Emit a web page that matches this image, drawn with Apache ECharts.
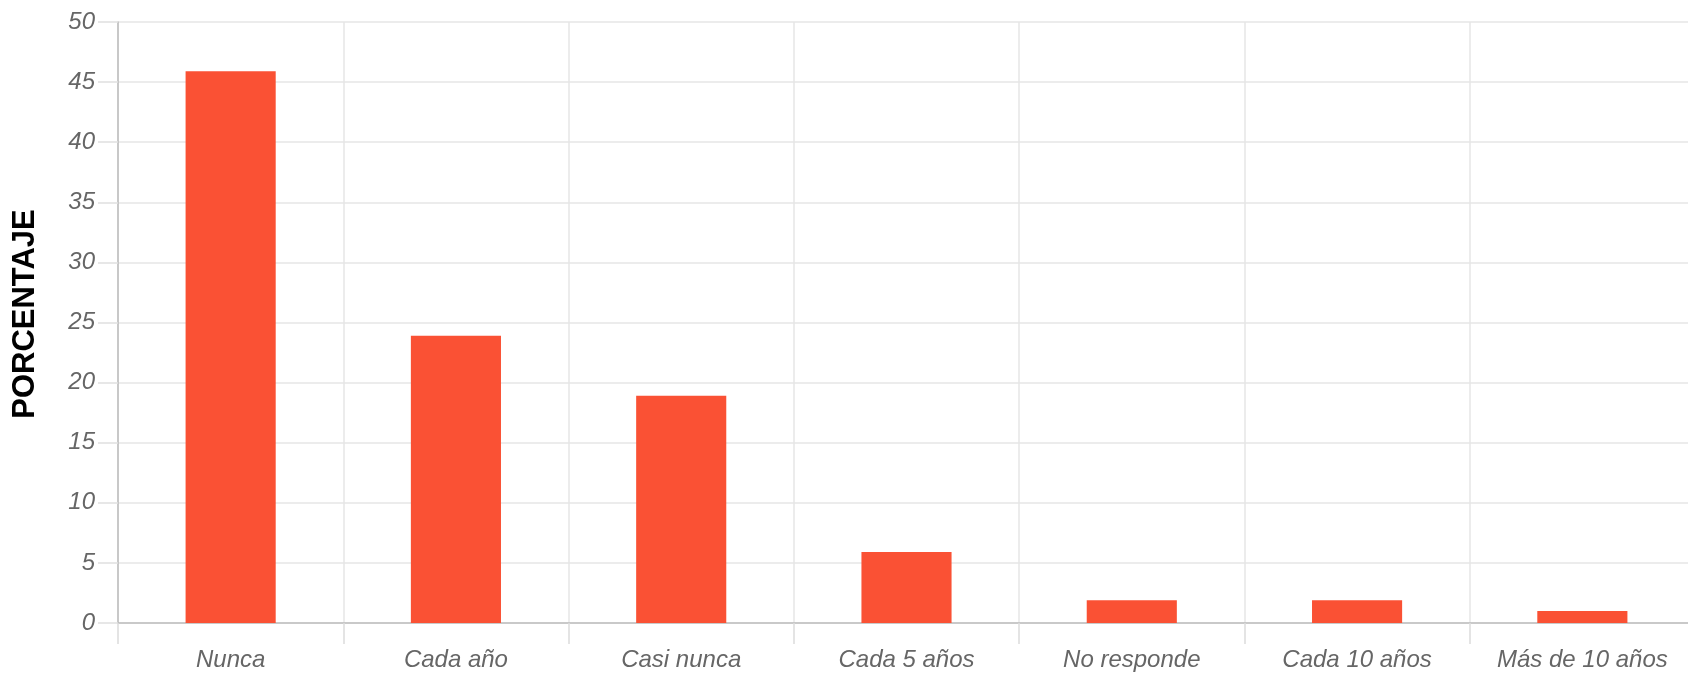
<!DOCTYPE html>
<html>
<head>
<meta charset="utf-8">
<script src="https://cdn.jsdelivr.net/npm/echarts@6/dist/echarts.min.js"></script>
<style>
html,body{margin:0;padding:0;background:#fff;}
#chart{width:1688px;height:673px;}
</style>
</head>
<body>
<div id="chart"></div>
<script>
var categories = ["Nunca", "Cada año", "Casi nunca", "Cada 5 años", "No responde", "Cada 10 años", "Más de 10 años"];
var values = [45.9, 23.9, 18.9, 5.9, 1.9, 1.9, 1.0];
var yAxisTitle = "PORCENTAJE";

var chart = echarts.init(document.getElementById('chart'), null, {renderer: 'canvas'});
var labelFont = {color: '#666', fontStyle: 'italic', fontFamily: 'Liberation Sans, Arial, sans-serif', fontSize: 24};
chart.setOption({
  animation: false,
  backgroundColor: '#fff',
  grid: {left: 118, right: -7, top: 22, bottom: 50, containLabel: false, outerBoundsMode: 'none'},
  xAxis: {
    type: 'category',
    data: categories,
    boundaryGap: true,
    axisLine: {show: true, lineStyle: {color: '#bdbdbd', width: 1.5}},
    axisTick: {show: true, length: 21, alignWithLabel: false, lineStyle: {color: '#dcdcdc', width: 1.5}},
    splitLine: {show: true, lineStyle: {color: '#e6e6e6', width: 1.5}},
    axisLabel: Object.assign({margin: 25, interval: 0}, labelFont)
  },
  yAxis: {
    type: 'value',
    min: 0, max: 50, interval: 5,
    name: yAxisTitle,
    nameLocation: 'middle',
    nameGap: 77,
    nameRotate: 90,
    nameMoveOverlap: false,
    nameTextStyle: {color: '#000', fontWeight: 'bold', fontSize: 31, fontFamily: 'Liberation Sans, Arial, sans-serif', padding: [0, 0, 0, 17]},
    axisLine: {show: true, lineStyle: {color: '#bdbdbd', width: 1.5}},
    axisTick: {show: true, length: 20, lineStyle: {color: '#e0e0e0', width: 1.5}},
    splitLine: {show: true, lineStyle: {color: '#e6e6e6', width: 1.5}},
    axisLabel: Object.assign({margin: 23}, labelFont)
  },
  series: [{
    type: 'bar',
    data: values,
    barWidth: '40%',
    itemStyle: {color: '#fa5134'}
  }]
});
</script>
</body>
</html>
